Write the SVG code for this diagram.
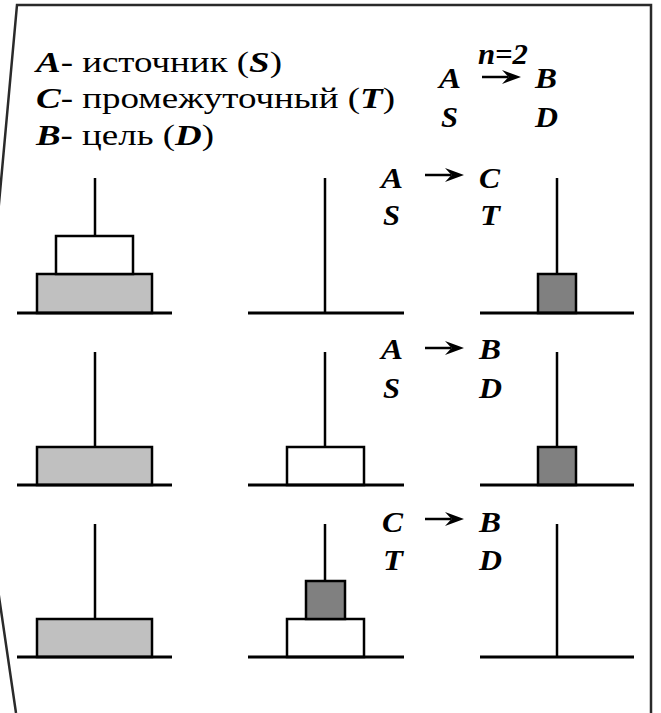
<svg xmlns="http://www.w3.org/2000/svg" width="661" height="713" viewBox="0 0 661 713">
  <defs>
    <style>
      .frame { fill: none; stroke: #2a2a2a; stroke-width: 2.5; }
      .base { stroke: #000; stroke-width: 3; }
      .pole { stroke: #000; stroke-width: 2.5; }
      .disk { stroke: #000; stroke-width: 2.5; }
      .big { fill: #c0c0c0; }
      .mid { fill: #ffffff; }
      .small { fill: #808080; }
      .t { font-family: "Liberation Serif", "Times New Roman", serif; font-size: 29px; fill: #000; }
      .lg { font-size: 30px; }
      .bi { font-weight: bold; font-style: italic; }
      .arrow { stroke: #000; stroke-width: 2.5; fill: none; }
      .head { fill: #000; stroke: none; }
    </style>
  </defs>

  <path class="frame" d="M16,713 L-23,446 L17,5 L651,5 L651,713"/>

  <g id="legend">
    <text class="t lg" x="36" y="72" textLength="246" lengthAdjust="spacingAndGlyphs"><tspan class="bi">A</tspan>- источник (<tspan class="bi">S</tspan>)</text>
    <text class="t lg" x="36" y="108" textLength="359" lengthAdjust="spacingAndGlyphs"><tspan class="bi">C</tspan>- промежуточный (<tspan class="bi">T</tspan>)</text>
    <text class="t lg" x="36" y="145" textLength="178" lengthAdjust="spacingAndGlyphs"><tspan class="bi">B</tspan>- цель (<tspan class="bi">D</tspan>)</text>
  </g>

  <g id="header">
    <text class="t bi" x="478" y="64" textLength="50" lengthAdjust="spacingAndGlyphs">n=2</text>
    <text class="t bi" x="439" y="88" textLength="22" lengthAdjust="spacingAndGlyphs">A</text>
    <text class="t bi" x="535" y="88" textLength="22" lengthAdjust="spacingAndGlyphs">B</text>
    <text class="t bi" x="441" y="127" textLength="17" lengthAdjust="spacingAndGlyphs">S</text>
    <text class="t bi" x="535" y="127" textLength="23" lengthAdjust="spacingAndGlyphs">D</text>
  </g>

  <g id="move1-labels">
    <text class="t bi" x="381" y="188" textLength="22" lengthAdjust="spacingAndGlyphs">A</text>
    <text class="t bi" x="479" y="188" textLength="21" lengthAdjust="spacingAndGlyphs">C</text>
    <text class="t bi" x="383" y="225" textLength="17" lengthAdjust="spacingAndGlyphs">S</text>
    <text class="t bi" x="480" y="225" textLength="20" lengthAdjust="spacingAndGlyphs">T</text>
  </g>
  <g id="move2-labels">
    <text class="t bi" x="381" y="359" textLength="22" lengthAdjust="spacingAndGlyphs">A</text>
    <text class="t bi" x="479" y="359" textLength="22" lengthAdjust="spacingAndGlyphs">B</text>
    <text class="t bi" x="383" y="398" textLength="17" lengthAdjust="spacingAndGlyphs">S</text>
    <text class="t bi" x="479" y="398" textLength="23" lengthAdjust="spacingAndGlyphs">D</text>
  </g>
  <g id="move3-labels">
    <text class="t bi" x="382" y="532" textLength="21" lengthAdjust="spacingAndGlyphs">C</text>
    <text class="t bi" x="479" y="532" textLength="22" lengthAdjust="spacingAndGlyphs">B</text>
    <text class="t bi" x="383" y="570" textLength="20" lengthAdjust="spacingAndGlyphs">T</text>
    <text class="t bi" x="479" y="570" textLength="23" lengthAdjust="spacingAndGlyphs">D</text>
  </g>

  <g id="connectors">
    <path class="arrow" d="M482,77 H508"/>
    <path class="head" d="M521,77 L502,70 L508.5,77 L502,84 Z"/>
    <path class="arrow" d="M425,175 H451"/>
    <path class="head" d="M464,175 L445,168 L451.5,175 L445,182 Z"/>
    <path class="arrow" d="M425,348 H451"/>
    <path class="head" d="M464,348 L445,341 L451.5,348 L445,355 Z"/>
    <path class="arrow" d="M425,519 H451"/>
    <path class="head" d="M464,519 L445,512 L451.5,519 L445,526 Z"/>
  </g>

  <!-- Row 1 -->
  <g id="r1-tower-A">
    <line class="pole" x1="95" y1="178" x2="95" y2="236"/>
    <rect class="disk big" x="37" y="274" width="115" height="39"/>
    <rect class="disk mid" x="56" y="236" width="77" height="38"/>
    <line class="base" x1="17" y1="313" x2="172" y2="313"/>
  </g>
  <g id="r1-tower-C">
    <line class="pole" x1="325" y1="178" x2="325" y2="313"/>
    <line class="base" x1="248" y1="313" x2="404" y2="313"/>
  </g>
  <g id="r1-tower-B">
    <line class="pole" x1="557" y1="178" x2="557" y2="274"/>
    <rect class="disk small" x="538" y="274" width="38" height="39"/>
    <line class="base" x1="480" y1="313" x2="634" y2="313"/>
  </g>

  <!-- Row 2 -->
  <g id="r2-tower-A">
    <line class="pole" x1="95" y1="352" x2="95" y2="447"/>
    <rect class="disk big" x="37" y="447" width="115" height="38"/>
    <line class="base" x1="17" y1="485" x2="172" y2="485"/>
  </g>
  <g id="r2-tower-C">
    <line class="pole" x1="325" y1="352" x2="325" y2="447"/>
    <rect class="disk mid" x="287" y="447" width="77" height="38"/>
    <line class="base" x1="248" y1="485" x2="404" y2="485"/>
  </g>
  <g id="r2-tower-B">
    <line class="pole" x1="557" y1="352" x2="557" y2="447"/>
    <rect class="disk small" x="538" y="447" width="38" height="38"/>
    <line class="base" x1="480" y1="485" x2="634" y2="485"/>
  </g>

  <!-- Row 3 -->
  <g id="r3-tower-A">
    <line class="pole" x1="95" y1="524" x2="95" y2="619"/>
    <rect class="disk big" x="37" y="619" width="115" height="38"/>
    <line class="base" x1="17" y1="657" x2="172" y2="657"/>
  </g>
  <g id="r3-tower-C">
    <line class="pole" x1="325" y1="524" x2="325" y2="581"/>
    <rect class="disk mid" x="287" y="619" width="77" height="38"/>
    <rect class="disk small" x="306" y="581" width="39" height="38"/>
    <line class="base" x1="248" y1="657" x2="404" y2="657"/>
  </g>
  <g id="r3-tower-B">
    <line class="pole" x1="557" y1="524" x2="557" y2="657"/>
    <line class="base" x1="480" y1="657" x2="634" y2="657"/>
  </g>
</svg>
